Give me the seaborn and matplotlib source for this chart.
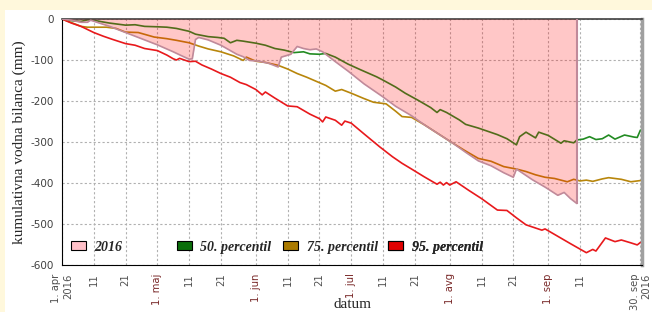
import numpy as np
import pandas as pd
import seaborn as sns
import matplotlib
matplotlib.use('Agg')
import matplotlib.pyplot as plt
import matplotlib.dates as mdates
from matplotlib.patches import Patch, Rectangle

# days counted from 1. apr 2016, values in mm
start_date = pd.Timestamp('2016-04-01')
end_date = pd.Timestamp('2016-09-30')

p95_days = [0, 3, 6, 10, 13, 16, 20, 23, 26, 30, 33, 35, 36, 37, 40, 42, 44, 47, 50, 53,
            56, 58, 61, 63, 64, 67, 71, 74, 78, 81, 82, 83, 86, 88, 89, 91, 95, 100, 104, 107,
            110, 114, 118, 119, 120, 121, 122, 124, 128, 132, 137, 140, 143, 146, 151, 152, 156, 160, 165, 167,
            168, 171, 174, 176, 179, 181, 182]
p95_vals = [0, -10, -18, -33, -42, -50, -60, -64, -72, -77, -88, -97, -100, -96, -104, -103, -112, -122, -133, -142,
            -155, -160, -172, -185, -178, -193, -212, -214, -232, -243, -251, -239, -247, -259, -249, -254, -280, -312, -336, -352,
            -366, -385, -403, -398, -405, -399, -405, -397, -418, -438, -466, -467, -485, -502, -515, -512, -530, -548, -570, -562,
            -566, -534, -543, -539, -546, -551, -545]

p50_days = [0, 3, 6, 8, 10, 12, 15, 17, 20, 23, 26, 30, 33, 36, 40, 42, 44, 46, 49, 51,
            53, 55, 57, 61, 64, 67, 70, 73, 76, 78, 81, 83, 86, 90, 94, 99, 101, 105, 108, 112,
            116, 118, 119, 121, 125, 127, 131, 134, 137, 140, 143, 144, 146, 149, 150, 153, 157, 158, 161, 162,
            164, 166, 168, 170, 172, 174, 177, 180, 181, 182]
p50_vals = [0, -4, -6, -2, -3, -6, -10, -12, -15, -14, -18, -19, -20, -23, -30, -37, -40, -43, -45, -47,
            -58, -52, -54, -59, -64, -72, -76, -82, -80, -85, -86, -84, -93, -110, -124, -141, -149, -166, -181, -198,
            -216, -228, -221, -228, -246, -257, -266, -274, -282, -292, -307, -287, -276, -290, -276, -284, -303, -297, -302, -295,
            -293, -287, -294, -292, -283, -293, -283, -288, -289, -271]

p75_days = [0, 4, 6, 8, 14, 17, 20, 24, 29, 33, 36, 40, 43, 46, 50, 54, 57, 58, 61, 64,
            68, 71, 74, 77, 83, 86, 88, 91, 95, 98, 102, 105, 107, 110, 114, 118, 123, 127, 131, 135,
            139, 143, 146, 149, 152, 155, 159, 161, 163, 165, 167, 170, 172, 176, 179, 182]
p75_vals = [0, -12, -18, -20, -20, -23, -32, -33, -44, -48, -52, -58, -66, -73, -80, -90, -101, -93, -103, -106,
            -113, -122, -133, -142, -162, -176, -172, -181, -194, -203, -207, -225, -238, -240, -258, -278, -303, -322, -340, -347,
            -360, -366, -372, -380, -386, -389, -397, -391, -395, -393, -396, -390, -387, -391, -397, -394]

y2016_days = [0, 3, 6, 8, 9, 11, 15, 20, 25, 30, 35, 38, 40, 41, 42, 43, 46, 50, 55, 57,
              59, 62, 65, 68, 69, 72, 74, 76, 78, 80, 82, 86, 90, 95, 101, 105, 110, 114, 119, 123,
              127, 131, 135, 139, 142, 143, 148, 152, 156, 158, 160, 162]
y2016_vals = [0, -3, -8, -8, -3, -8, -18, -33, -48, -63, -80, -91, -98, -97, -50, -45, -51, -64, -86, -92,
              -101, -103, -108, -117, -93, -86, -67, -72, -75, -73, -80, -104, -127, -158, -190, -213, -236, -258, -283, -303,
              -325, -346, -358, -375, -386, -366, -392, -410, -430, -423, -438, -450]

tick_dates = ['2016-04-01', '2016-04-11', '2016-04-21', '2016-05-01', '2016-05-11', '2016-05-21',
              '2016-06-01', '2016-06-11', '2016-06-21', '2016-07-01', '2016-07-11', '2016-07-21',
              '2016-08-01', '2016-08-11', '2016-08-21', '2016-09-01', '2016-09-11', '2016-09-30']
tick_labels = ['1. apr\n2016', '11', '21', '1. maj', '11', '21', '1. jun', '11', '21',
               '1. jul', '11', '21', '1. avg', '11', '21', '1. sep', '11', '30. sep\n2016']
y_ticks = [0, -100, -200, -300, -400, -500, -600]

legend_labels = ['2016', '50. percentil', '75. percentil', '95. percentil']


def to_dates(days):
    return start_date + pd.to_timedelta(days, unit='D')


sns.set_style('white')
plt.rcParams['font.family'] = ['DejaVu Sans']

fig = plt.figure(figsize=(6.52, 3.12), dpi=100, facecolor='#fff8dc')
# white panel over the cream background, kept behind the axes
fig.patches.append(Rectangle((5 / 652, 0), 1, 302 / 312, transform=fig.transFigure,
                             facecolor='white', edgecolor='none', zorder=-10))
ax = fig.add_axes([62 / 652, 47 / 312, 580 / 652, 246 / 312])
ax.set_zorder(5)
ax.set_facecolor('white')

line_colors = {'50': '#228b22', '75': '#b8860b', '95': '#e8191c'}
sns.lineplot(x=to_dates(p50_days), y=p50_vals, color=line_colors['50'], lw=1.2, ax=ax, zorder=2)
sns.lineplot(x=to_dates(p75_days), y=p75_vals, color=line_colors['75'], lw=1.2, ax=ax, zorder=2)
sns.lineplot(x=to_dates(p95_days), y=p95_vals, color=line_colors['95'], lw=1.2, ax=ax, zorder=2)

# 2016 area drawn over the percentile lines
d2016 = to_dates(y2016_days)
ax.fill_between(d2016, y2016_vals, 0, color='red', alpha=0.22, lw=0, zorder=3)
sns.lineplot(x=d2016, y=y2016_vals, color='#c08a9a', lw=1.2, ax=ax, zorder=4)
ax.vlines(d2016[-1], y2016_vals[-1], 0, color='#c08a9a', lw=1.5, zorder=4)

ax.set_xlim(start_date, end_date + pd.Timedelta(hours=12))
ax.set_ylim(-600, 0)

ax.set_xticks(pd.to_datetime(tick_dates))
ax.set_xticklabels(tick_labels, rotation=90, fontsize=7.2)
ax.xaxis.set_minor_locator(mdates.DayLocator())
for lbl in ax.get_xticklabels():
    txt = lbl.get_text()
    lbl.set_multialignment('right')
    if txt.startswith('1.') and '\n' not in txt:
        lbl.set_color('#7a2a2a')
    else:
        lbl.set_color('#505050')

ax.set_yticks(y_ticks)
ax.set_yticklabels([str(v) for v in y_ticks], fontsize=7.5, color='#404040')
ax.set_yticks(np.arange(-600, 1, 10), minor=True)

ax.tick_params(axis='both', which='major', length=4, width=0.8, color='black', direction='out', pad=2)
ax.tick_params(axis='both', which='minor', length=2.5, width=0.6, color='black', direction='out')

ax.grid(True, which='major', ls=(0, (2, 2)), color='#b0b0b0', lw=0.8)
ax.set_axisbelow(True)

ax.spines['left'].set_color('black')
ax.spines['bottom'].set_color('black')
ax.spines['top'].set_color('#404040')
ax.spines['top'].set_linewidth(1.2)
ax.spines['right'].set_color('#a0a0a0')
ax.spines['right'].set_linewidth(2.5)

ax.set_xlabel('datum', family='Liberation Serif', fontsize=11)
ax.xaxis.set_label_coords(0.5, -0.133)
ax.set_ylabel('kumulativna vodna bilanca (mm)', family='Liberation Serif', fontsize=11)
ax.yaxis.set_label_coords(-0.062, 0.5)

legend_colors = ['#ffc0c8', '#0b6e0b', '#aa7a00', '#e00000']
legend_x = [0.0155, 0.198, 0.381, 0.562]
for lab, col, xa in zip(legend_labels, legend_colors, legend_x):
    handle = Patch(facecolor=col, edgecolor='black', lw=0.8)
    lg = ax.legend([handle], [lab], loc='center left', bbox_to_anchor=(xa, 0.073),
                   frameon=False, borderpad=0, borderaxespad=0,
                   handlelength=1.1, handleheight=0.55, handletextpad=0.6,
                   prop=dict(family='Liberation Serif', weight='bold', style='italic', size=10))
    ax.add_artist(lg)

fig.savefig('out.png', dpi=100, facecolor=fig.get_facecolor())
